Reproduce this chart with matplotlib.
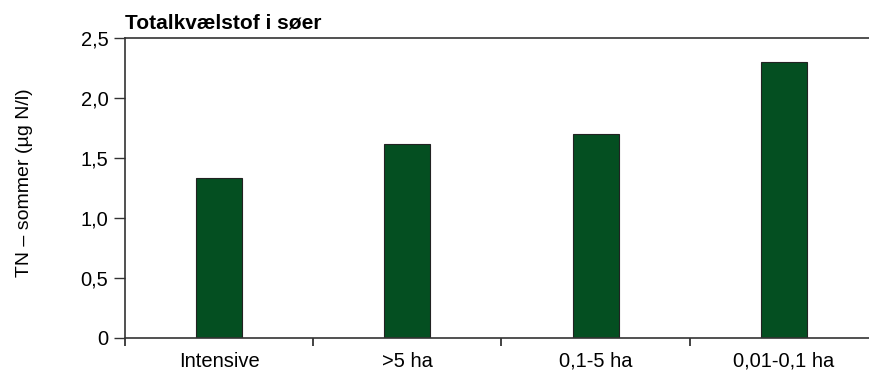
import numpy as np
import matplotlib.pyplot as plt

plt.rcParams['font.family'] = ['Liberation Sans', 'DejaVu Sans']

### Data ###
categories = ['Intensive', '>5 ha', '0,1-5 ha', '0,01-0,1 ha']
tn_summer = [1.33, 1.62, 1.70, 2.30]
yticks = [0, 0.5, 1.0, 1.5, 2.0, 2.5]
ytick_labels = ['0', '0,5', '1,0', '1,5', '2,0', '2,5']

### Figure ###
fig = plt.figure(figsize=(8.69, 3.72), dpi=100)
ax = fig.add_axes([0.1438, 0.0914, 0.8666, 0.8064])

x = np.arange(len(categories))
ax.bar(x, tn_summer, width=0.245, color='#044f21', edgecolor='#222222', linewidth=0.8)

ax.set_xlim(-0.5, len(categories) - 0.5)
ax.set_ylim(0, 2.5)
ax.set_yticks(yticks)
ax.set_yticklabels(ytick_labels)

# labels centred on bars, ticks on the category boundaries
ax.set_xticks(x)
ax.set_xticklabels(categories)
ax.tick_params(axis='x', which='major', length=0, pad=10)
ax.set_xticks(np.arange(-0.5, len(categories) - 0.4, 1), minor=True)
ax.tick_params(axis='x', which='minor', length=6, width=1.2, color='#222222', direction='out')
ax.tick_params(axis='y', length=8, width=1, color='#333333', pad=4)
ax.tick_params(labelsize=14.5)

for s in ['left', 'bottom', 'top']:
    ax.spines[s].set_color('#333333')
    ax.spines[s].set_linewidth(1.2)
ax.spines['right'].set_visible(False)

ax.set_ylabel('TN – sommer (µg N/l)', fontsize=14)
ax.yaxis.set_label_coords(-0.122, 0.518)
ax.set_title('Totalkvælstof i søer', loc='left', fontsize=15, fontweight='bold', pad=7)

fig.savefig('out.png', dpi=100)
